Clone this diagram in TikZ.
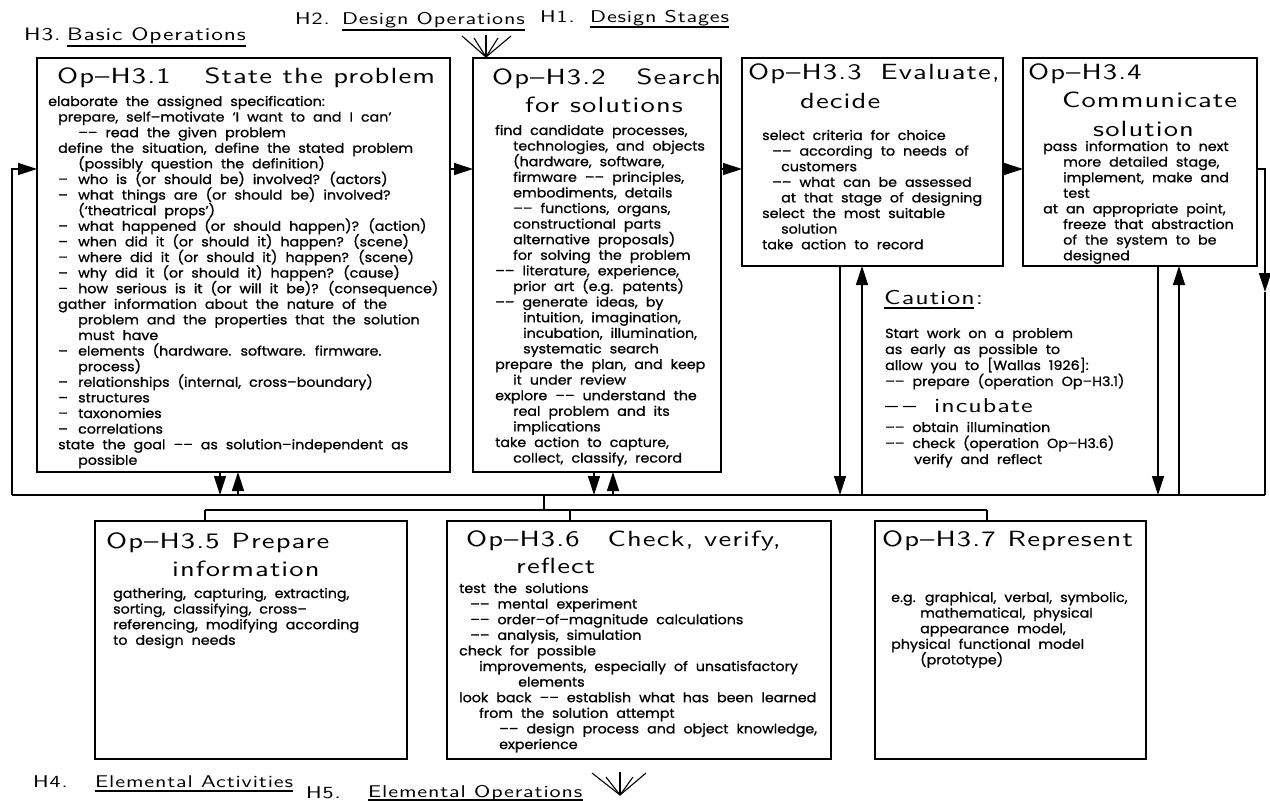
\documentclass[tikz,border=0pt]{standalone}
\usepackage{fontspec}
\usetikzlibrary{arrows.meta}
\newfontfamily\bodyfont{Poppins}[FakeStretch=1.08,WordSpace=2.1,FakeBold=1]
\newfontfamily\capfont{lmsans10-regular}[Extension=.otf,FakeStretch=1.3,LetterSpace=5]
\newcommand\dsh{\makebox[20pt][l]{–}}

\begin{document}
\begin{tikzpicture}[x=1pt,y=-1pt,
  opbox/.style={draw,line width=1.6pt,inner sep=0pt,outer sep=0pt,anchor=north west},
  ln/.style={line width=1.3pt},
  arr/.style={ln,-{Triangle[length=19pt,width=12pt]}},
  txt/.style={anchor=base west,inner sep=0pt,font=\bodyfont\fontsize{13.2}{15}\selectfont},
  ttl/.style={anchor=base west,inner sep=0pt,font=\capfont\fontsize{22}{26}\selectfont},
  hdr/.style={anchor=base west,inner sep=0pt,font=\capfont\fontsize{17}{20}\selectfont},
  uline/.style={line width=1.1pt},
  fan/.style={line width=1.1pt}]

\fill[white] (0,0) rectangle (1270,801);
\useasboundingbox (0,0) rectangle (1270,801);

% ---------- operation boxes ----------
\node[opbox,minimum width=413pt,minimum height=414pt] (box1) at (37,58) {};
\node[opbox,minimum width=248pt,minimum height=414pt] (box2) at (473,58) {};
\node[opbox,minimum width=261pt,minimum height=208pt] (box3) at (742,58) {};
\node[opbox,minimum width=234pt,minimum height=208pt] (box4) at (1023,58) {};
\node[opbox,minimum width=312pt,minimum height=238pt] (box5) at (95,521) {};
\node[opbox,minimum width=384pt,minimum height=238pt] (box6) at (447,521) {};
\node[opbox,minimum width=271pt,minimum height=238pt] (box7) at (875,521) {};

% ---------- titles ----------
\node[ttl] (t1) at (57,83) {Op–H3.1\hspace{34pt}State the problem};
\node[ttl] (t2a) at (492,84) {Op–H3.2\hspace{31pt}Search};
\node[ttl] (t2b) at (525,112) {for solutions};
\node[ttl] (t3a) at (748,79) {Op–H3.3\hspace{19pt}Evaluate,};
\node[ttl] (t3b) at (800,108) {decide};
\node[ttl] (t4a) at (1028,79) {Op–H3.4};
\node[ttl] (t4b) at (1062,107) {Communicate};
\node[ttl] (t4c) at (1093,136) {solution};
\node[ttl] (t5a) at (106,548) {Op–H3.5\hspace{12pt}Prepare};
\node[ttl] (t5b) at (172,576) {information};
\node[ttl] (t6a) at (466,546) {Op–H3.6\hspace{28pt}Check, verify,};
\node[ttl] (t6b) at (516,573) {reflect};
\node[ttl] (t7) at (882,546) {Op–H3.7\hspace{12pt}Represent};

% ---------- box texts ----------
\foreach \dx/\tx [count=\k from 0] in {
  0/{elaborate the assigned specification:},
  10/{prepare, self–motivate ‘I want to and I can’},
  30/{–– read the given problem},
  10/{define the situation, define the stated problem},
  30/{(possibly question the definition)},
  10/{\dsh who is (or should be) involved? (actors)},
  10/{\dsh what things are (or should be) involved?},
  30/{(‘theatrical props’)},
  10/{\dsh what happened (or should happen)? (action)},
  10/{\dsh when did it (or should it) happen? (scene)},
  10/{\dsh where did it (or should it) happen? (scene)},
  10/{\dsh why did it (or should it) happen? (cause)},
  10/{\dsh how serious is it (or will it be)? (consequence)},
  10/{gather information about the nature of the},
  30/{problem and the properties that the solution},
  30/{must have},
  10/{\dsh elements (hardware. software. firmware.},
  30/{process)},
  10/{\dsh relationships (internal, cross–boundary)},
  10/{\dsh structures},
  10/{\dsh taxonomies},
  10/{\dsh correlations},
  10/{state the goal –– as solution–independent as},
  30/{possible}}
  \node[txt] (b1-\k) at ({48+\dx},{106+15.6*\k}) {\tx};

\foreach \dx/\tx [count=\k from 0] in {
  0/{find candidate processes,},
  18/{technologies, and objects},
  18/{(hardware, software,},
  18/{firmware –– principles,},
  18/{embodiments, details},
  18/{–– functions, organs,},
  18/{constructional parts},
  18/{alternative proposals)},
  18/{for solving the problem},
  0/{–– literature, experience,},
  18/{prior art (e.g. patents)},
  0/{–– generate ideas, by},
  28/{intuition, imagination,},
  28/{incubation, illumination,},
  28/{systematic search},
  0/{prepare the plan, and keep},
  18/{it under review},
  0/{explore –– understand the},
  18/{real problem and its},
  18/{implications},
  0/{take action to capture,},
  18/{collect, classify, record}}
  \node[txt] (b2-\k) at ({495+\dx},{135+15.6*\k}) {\tx};

\foreach \dx/\tx [count=\k from 0] in {
  0/{select criteria for choice},
  10/{–– according to needs of},
  19/{customers},
  10/{–– what can be assessed},
  19/{at that stage of designing},
  0/{select the most suitable},
  19/{solution},
  0/{take action to record}}
  \node[txt] (b3-\k) at ({762+\dx},{140+15.6*\k}) {\tx};

\foreach \dx/\tx [count=\k from 0] in {
  0/{pass information to next},
  20/{more detailed stage,},
  20/{implement, make and},
  20/{test},
  0/{at an appropriate point,},
  20/{freeze that abstraction},
  20/{of the system to be},
  20/{designed}}
  \node[txt] (b4-\k) at ({1043+\dx},{151+15.6*\k}) {\tx};

\foreach \dx/\tx [count=\k from 0] in {
  0/{gathering, capturing, extracting,},
  0/{sorting, classifying, cross–},
  0/{referencing, modifying according},
  0/{to design needs}}
  \node[txt] (b5-\k) at ({113+\dx},{598+15.6*\k}) {\tx};

\foreach \dx/\tx [count=\k from 0] in {
  0/{test the solutions},
  11/{–– mental experiment},
  11/{–– order–of–magnitude calculations},
  11/{–– analysis, simulation},
  0/{check for possible},
  20/{improvements, especially of unsatisfactory},
  59/{elements},
  0/{look back –– establish what has been learned},
  20/{from the solution attempt},
  40/{–– design process and object knowledge,},
  40/{experience}}
  \node[txt] (b6-\k) at ({459+\dx},{593+15.6*\k}) {\tx};

\foreach \dx/\tx [count=\k from 0] in {
  0/{e.g. graphical, verbal, symbolic,},
  29/{mathematical, physical},
  29/{appearance model,},
  0/{physical functional model},
  29/{(prototype)}}
  \node[txt] (b7-\k) at ({891+\dx},{602+15.6*\k}) {\tx};

% ---------- caution note ----------
\node[ttl,font=\capfont\fontsize{20}{24}\selectfont] (caut) at (884,304) {Caution:};
\draw[uline] ([yshift=-4pt]caut.base west) -- ++(90,0);
\node[txt] (c1) at (885,338) {Start work on a problem};
\node[txt] (c2) at (885,354) {as early as possible to};
\node[txt] (c3) at (885,370) {allow you to [Wallas 1926]:};
\node[txt] (c4) at (885,386) {–– prepare (operation Op–H3.1)};
\node[ttl,font=\capfont\fontsize{20}{24}\selectfont] (c5) at (885,412) {–\hspace{5pt}–\hspace{18pt}incubate};
\node[txt] (c6) at (885,432) {–– obtain illumination};
\node[txt] (c7) at (885,448) {–– check (operation Op–H3.6)};
\node[txt] (c8) at (914,464) {verify and reflect};

% ---------- level headings ----------
\node[hdr,font=\capfont\fontsize{18}{21}\selectfont] (h3) at (24,40) {H3.};
\node[hdr,font=\capfont\fontsize{18}{21}\selectfont] (h3t) at (67,40) {Basic Operations};
\draw[uline] ([yshift=-6pt]h3t.base west) -- ([yshift=-6pt]h3t.base east);
\node[hdr] (h2) at (295,24) {H2.};
\node[hdr] (h2t) at (342,24) {Design Operations};
\draw[uline] ([yshift=-6pt]h2t.base west) -- ([yshift=-6pt]h2t.base east);
\node[hdr] (h1) at (540,22) {H1.};
\node[hdr] (h1t) at (590,22) {Design Stages};
\draw[uline] ([yshift=-5pt]h1t.base west) -- ([yshift=-5pt]h1t.base east);
\node[hdr] (h4) at (33,787) {H4.};
\node[hdr] (h4t) at (95,787) {Elemental Activities};
\draw[uline] ([yshift=-4pt]h4t.base west) -- ([yshift=-4pt]h4t.base east);
\node[hdr] (h5) at (306,798) {H5.};
\node[hdr] (h5t) at (368,797) {Elemental Operations};
\draw[uline] ([yshift=-3pt]h5t.base west) -- ([yshift=-3pt]h5t.base east);

% fans linking the levels
\coordinate (fanT) at (486,57);
\foreach \ua/\ub in {462/36,474/38,486/35,498/38,511/36}
  \draw[fan] (fanT) -- (\ua,\ub);
\coordinate (fanB) at (620,795);
\foreach \ua/\ub in {592/773,606/777,620/772,633/777,646/773}
  \draw[fan] (fanB) -- (\ua,\ub);

% ---------- connectors ----------
\coordinate (rowA) at (0,169);
\coordinate (busW) at (12,495);
\coordinate (busE) at (1265,495);
\coordinate (rMid) at (1265,292);
\draw[ln] (busW) -- (busE);
\draw[arr] (busW) |- (box1.west |- rowA);
\draw[arr] (box1.east |- rowA) -- (box2.west |- rowA);
\draw[arr] (box2.east |- rowA) -- (box3.west |- rowA);
\draw[arr] (box3.east |- rowA) -- (box4.west |- rowA);
\draw[arr] (box4.east |- rowA) -| (rMid);
\draw[ln] (rMid) -- (busE);

\coordinate (d1) at (220,495); \coordinate (u1) at (238,495);
\coordinate (d2) at (594,495); \coordinate (u2) at (613,495);
\coordinate (d3) at (840,495); \coordinate (u3) at (862,495);
\coordinate (d4) at (1158,495); \coordinate (u4) at (1179,495);
\draw[arr] (box1.south -| d1) -- (d1);
\draw[arr] (u1) -- (box1.south -| u1);
\draw[arr] (box2.south -| d2) -- (d2);
\draw[arr] (u2) -- (box2.south -| u2);
\draw[arr] (box3.south -| d3) -- (d3);
\draw[arr] (u3) -- (box3.south -| u3);
\draw[arr] (box4.south -| d4) -- (d4);
\draw[arr] (u4) -- (box4.south -| u4);

\coordinate (jn) at (544,495);
\coordinate (dW) at (205,510);
\coordinate (d6) at (570,510);
\coordinate (dE) at (987,510);
\draw[ln] (jn) -- (jn |- dW);
\draw[ln] (dW) -- (dE);
\draw[ln] (dW) -- (box5.north -| dW);
\draw[ln] (d6) -- (box6.north -| d6);
\draw[ln] (dE) -- (box7.north -| dE);
\end{tikzpicture}
\end{document}
